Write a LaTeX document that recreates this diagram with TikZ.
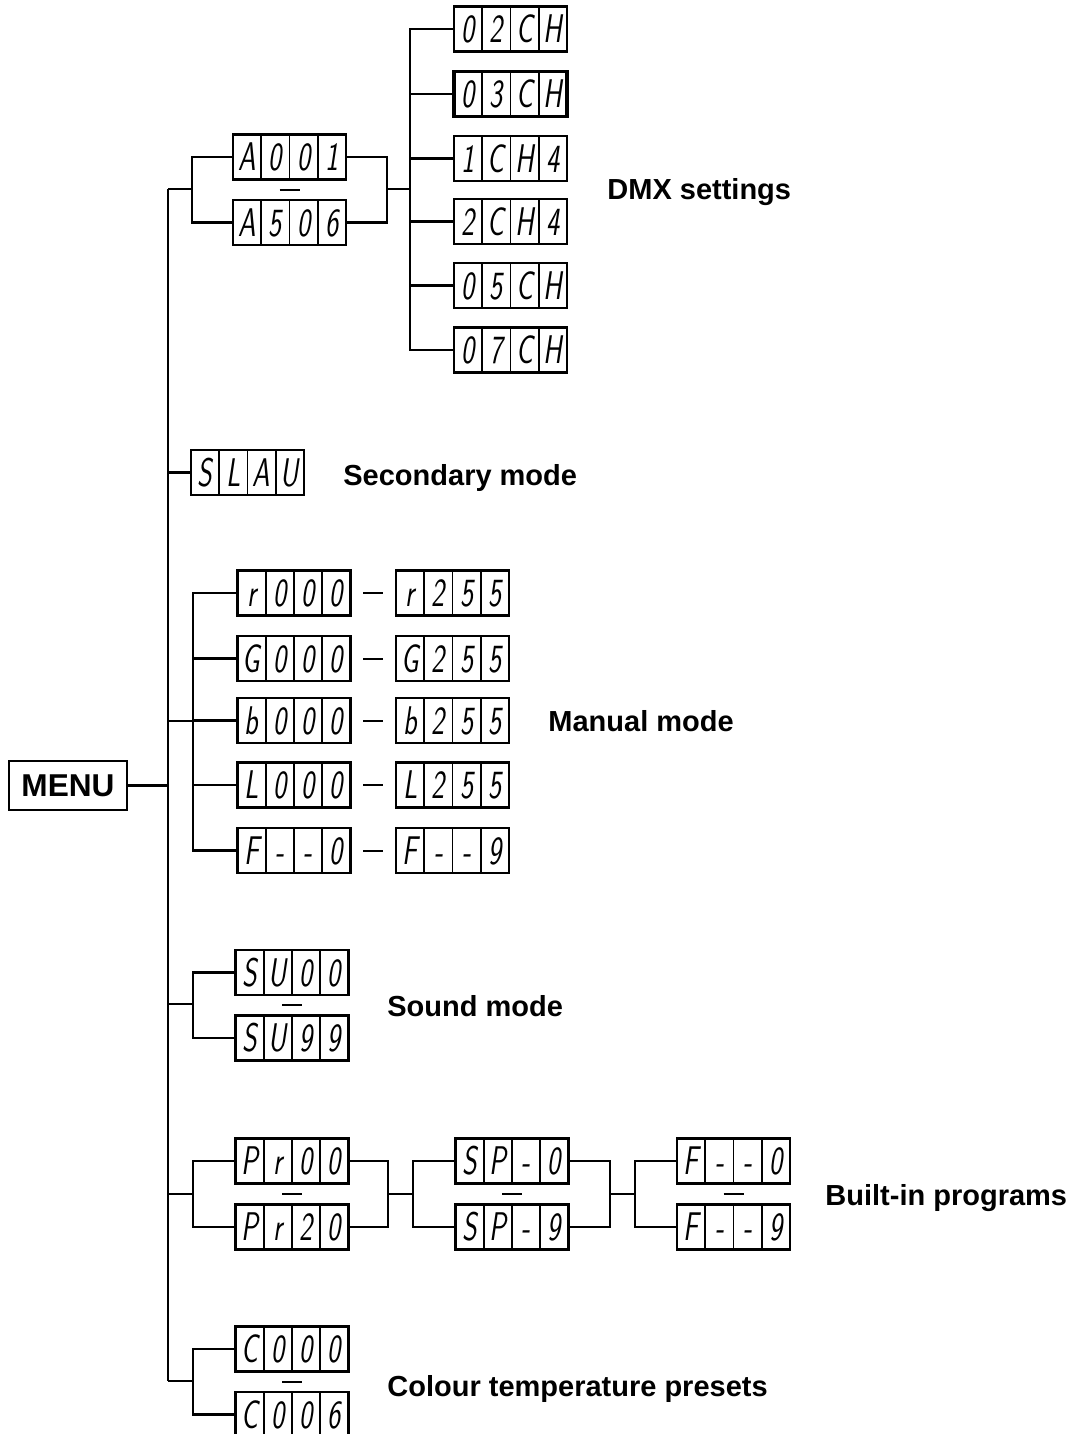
\documentclass[tikz,border=0pt]{standalone}
\usepackage{fontspec}
\usepackage{graphicx}
\newfontfamily\labelfont{Liberation Sans}
\usetikzlibrary{calc}
\newcommand\segdisp[7][]{%
  \node[dispbox,#1] (#2) at (#3) {};
  \draw[dispdiv] ($(#2.north west)!0.25!(#2.north east)$) -- ($(#2.south west)!0.25!(#2.south east)$);
  \draw[dispdiv] ($(#2.north west)!0.5!(#2.north east)$) -- ($(#2.south west)!0.5!(#2.south east)$);
  \draw[dispdiv] ($(#2.north west)!0.75!(#2.north east)$) -- ($(#2.south west)!0.75!(#2.south east)$);
  \node[dispchar] (#2-1) at ($(#2.west)!0.125!(#2.east)$) {\scalebox{0.7}[1]{#4}};
  \node[dispchar] (#2-2) at ($(#2.west)!0.375!(#2.east)$) {\scalebox{0.7}[1]{#5}};
  \node[dispchar] (#2-3) at ($(#2.west)!0.625!(#2.east)$) {\scalebox{0.7}[1]{#6}};
  \node[dispchar] (#2-4) at ($(#2.west)!0.875!(#2.east)$) {\scalebox{0.7}[1]{#7}};
}
\newcommand\rangemark[2]{%
  \draw[rangedash] ($(#1)!0.5!(#2)$) +(-10,0) -- +(10,0);
}
\begin{document}
\begin{tikzpicture}[x=0.5pt,y=-0.5pt,
  conn/.style={line width=1.1pt},
  trunkline/.style={line width=1.25pt},
  dispbox/.style={draw,line width=1.1pt,minimum width=56.5pt,minimum height=22.5pt,inner sep=0pt,outer sep=0pt},
  dispdiv/.style={line width=0.8pt},
  dispchar/.style={inner sep=0pt,text height=13.9pt,text depth=0pt,font=\fontsize{20}{20}\selectfont\sffamily\slshape},
  rangedash/.style={line width=1pt},
  lbl/.style={anchor=base west,inner sep=0pt,font=\labelfont\bfseries\fontsize{14.5}{16}\selectfont},
  menubox/.style={draw,line width=1.1pt,minimum width=59pt,minimum height=24.5pt,inner sep=0pt,font=\labelfont\bfseries\fontsize{15.8}{18}\selectfont}
]
\useasboundingbox (0,0) rectangle (1075,1434);

% trunk
\coordinate (ttop) at (168,189);
\coordinate (tbot) at (168,1381);
\draw[trunkline] (ttop) -- (tbot);

% MENU
\node[menubox] (menu) at (68,785.5) {MENU};
\draw[conn] (menu.east) -- (menu.east -| ttop);

% DMX settings
\segdisp{a001}{289.5,157}{A}{0}{0}{1}
\segdisp{a506}{289.5,222.5}{A}{5}{0}{6}
\coordinate (dmxL) at (192,189);
\coordinate (dmxR) at (387,189);
\coordinate (dmxV) at (410,189);
\draw[conn] (ttop) -- (dmxL);
\draw[conn] (a001.west) -| (dmxL) |- (a506.west);
\draw[conn] (a001.east) -| (dmxR) |- (a506.east);
\draw[conn] (dmxR) -- (dmxV);
\rangemark{a001.south}{a506.north}
\segdisp{ch02}{510.5,29}{0}{2}{C}{H}
\segdisp[line width=1.6pt]{ch03}{510.5,94}{0}{3}{C}{H}
\segdisp{ch14}{510.5,158.5}{1}{C}{H}{4}
\segdisp{ch24}{510.5,221.5}{2}{C}{H}{4}
\segdisp{ch05}{510.5,285.5}{0}{5}{C}{H}
\segdisp{ch07}{510.5,350}{0}{7}{C}{H}
\foreach \n in {ch02,ch03,ch14,ch24,ch05,ch07} {\draw[conn] (\n.west) -| (dmxV);}
\node[lbl] (lbldmx) at (607,199) {DMX settings};

% Secondary mode
\segdisp{slau}{247.5,472.5}{S}{L}{A}{U}
\draw[conn] (slau.west) -- (slau.west -| ttop);
\node[lbl] (lblsec) at (343,485.5) {Secondary mode};

% Manual mode
\segdisp{rl}{294,593}{r}{0}{0}{0}
\segdisp{rr}{452.5,593}{r}{2}{5}{5}
\segdisp{gl}{294,658.5}{G}{0}{0}{0}
\segdisp{gr}{452.5,658.5}{G}{2}{5}{5}
\segdisp{bl}{294,720.5}{b}{0}{0}{0}
\segdisp{br}{452.5,720.5}{b}{2}{5}{5}
\segdisp{ll}{294,785}{L}{0}{0}{0}
\segdisp{lr}{452.5,785}{L}{2}{5}{5}
\segdisp{fl}{294,850.5}{F}{-}{-}{0}
\segdisp{fr}{452.5,850.5}{F}{-}{-}{9}
\coordinate (manL) at (193,721);
\draw[conn] (manL -| ttop) -- (manL);
\foreach \n in {rl,gl,bl,ll,fl} {\draw[conn] (\n.west) -| (manL);}
\rangemark{rl.east}{rr.west}
\rangemark{gl.east}{gr.west}
\rangemark{bl.east}{br.west}
\rangemark{ll.east}{lr.west}
\rangemark{fl.east}{fr.west}
\node[lbl] (lblman) at (548,731) {Manual mode};

% Sound mode
\segdisp{su00}{292,972.5}{S}{U}{0}{0}
\segdisp{su99}{292,1038}{S}{U}{9}{9}
\coordinate (sndL) at (193,1004);
\draw[conn] (sndL -| ttop) -- (sndL);
\draw[conn] (su00.west) -| (sndL) |- (su99.west);
\rangemark{su00.south}{su99.north}
\node[lbl] (lblsnd) at (387,1016.5) {Sound mode};

% Built-in programs
\segdisp{pr00}{292,1161}{P}{r}{0}{0}
\segdisp{pr20}{292,1227}{P}{r}{2}{0}
\segdisp{sp0}{512,1161}{S}{P}{-}{0}
\segdisp{sp9}{512,1227}{S}{P}{-}{9}
\segdisp{ff0}{733.5,1161}{F}{-}{-}{0}
\segdisp{ff9}{733.5,1227}{F}{-}{-}{9}
\coordinate (prL) at (193,1194);
\coordinate (prR) at (388,1194);
\coordinate (spL) at (413,1194);
\coordinate (spR) at (610,1194);
\coordinate (ffL) at (635,1194);
\draw[conn] (prL -| ttop) -- (prL);
\draw[conn] (pr00.west) -| (prL) |- (pr20.west);
\draw[conn] (pr00.east) -| (prR) |- (pr20.east);
\draw[conn] (prR) -- (spL);
\draw[conn] (sp0.west) -| (spL) |- (sp9.west);
\draw[conn] (sp0.east) -| (spR) |- (sp9.east);
\draw[conn] (spR) -- (ffL);
\draw[conn] (ff0.west) -| (ffL) |- (ff9.west);
\rangemark{pr00.south}{pr20.north}
\rangemark{sp0.south}{sp9.north}
\rangemark{ff0.south}{ff9.north}
\node[lbl] (lblbip) at (825,1205) {Built-in programs};

% Colour temperature presets
\segdisp{c000}{292,1349}{C}{0}{0}{0}
\segdisp{c006}{292,1414.5}{C}{0}{0}{6}
\coordinate (colL) at (193,1381);
\draw[conn] (tbot) -- (colL);
\draw[conn] (c000.west) -| (colL) |- (c006.west);
\rangemark{c000.south}{c006.north}
\node[lbl] (lblcol) at (387,1396.5) {Colour temperature presets};
\end{tikzpicture}
\end{document}
